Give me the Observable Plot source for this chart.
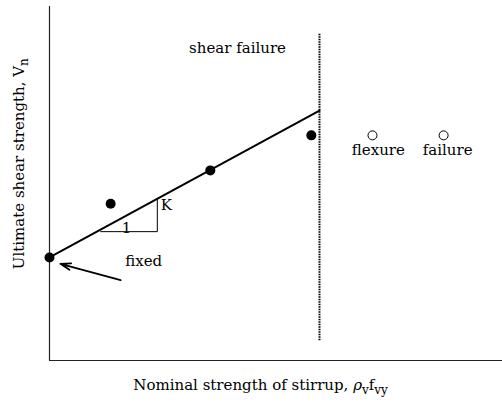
<!DOCTYPE html>
<html><head><meta charset="utf-8">
<script src="https://cdn.jsdelivr.net/npm/d3@7"></script>
<script src="https://cdn.jsdelivr.net/npm/@observablehq/plot@0.6"></script>
<style>body{margin:0;background:#fff}</style>
</head><body><div id="chart"></div>
<script>
// Test results (shear failure), arbitrary units
const testX = [0, 1.35, 3.55, 5.78];
const testY = [2.91, 4.43, 5.37, 6.36];
// Flexure failure markers
const flexX = [7.13, 8.70];
const flexY = [6.36, 6.36];
// Regression line (fixed intercept)
const fitX = [0, 5.96];
const fitY = [2.91, 7.06];
// Shear/flexure boundary
const boundX = 5.96;
const boundY = [0.56, 9.24];
// Slope triangle
const triX = [1.13, 2.38, 2.38];
const triY = [3.64, 3.64, 4.56];
// Annotations
const labels = ["shear failure", "flexure", "failure", "1", "K", "fixed"];
const labelX = [4.15, 7.26, 8.79, 1.70, 2.58, 2.08];
const labelY = [8.81, 5.93, 5.93, 3.74, 4.40, 2.80];
const arrowFrom = [1.57, 2.27];
const arrowTo = [0.24, 2.73];
const xTitle = "Nominal strength of stirrup, *ρ*_{v}f_{vy}";
const yTitle = "Ultimate shear strength, V_{n}";

const font = "DejaVu Serif";
const pts = testX.map((x, i) => ({x, y: testY[i]}));
const flex = flexX.map((x, i) => ({x, y: flexY[i]}));
const fit = fitX.map((x, i) => ({x, y: fitY[i]}));
const tri = triX.map((x, i) => ({x, y: triY[i]}));
const lab = labels.map((t, i) => ({t, x: labelX[i], y: labelY[i]}));

const svg = Plot.plot({
  width: 502, height: 407,
  marginLeft: 49, marginRight: 0, marginTop: 6, marginBottom: 47,
  x: {domain: [0, 10], axis: null},
  y: {domain: [0, 10], axis: null},
  style: {fontFamily: font, background: "#fff"},
  marks: [
    Plot.ruleX([0], {y1: 0, y2: 10, stroke: "#222", strokeWidth: 1.2}),
    Plot.ruleY([0], {x1: 0, x2: 10, stroke: "#222", strokeWidth: 1.2}),
    Plot.ruleX([boundX], {y1: boundY[0], y2: boundY[1], stroke: "#000", strokeWidth: 2, strokeDasharray: "1.5,1"}),
    Plot.line(fit, {x: "x", y: "y", stroke: "#000", strokeWidth: 2}),
    Plot.line(tri, {x: "x", y: "y", stroke: "#000", strokeWidth: 1}),
    Plot.dot(pts, {x: "x", y: "y", r: 5, fill: "#000"}),
    Plot.dot(flex, {x: "x", y: "y", r: 4.5, stroke: "#000", strokeWidth: 1, fill: "#fff"}),
    Plot.arrow([{}], {x1: arrowFrom[0], y1: arrowFrom[1], x2: arrowTo[0], y2: arrowTo[1], stroke: "#000", strokeWidth: 1.8, headLength: 9, headAngle: 35}),
    Plot.text(lab, {x: "x", y: "y", text: "t", fontSize: 15, fill: "#000"}),
    Plot.text([yTitle], {x: -0.68, y: 5.56, rotate: -90, fontSize: 15, fill: "#000", className: "rich"}),
    Plot.text([xTitle], {x: 4.66, y: -0.71, fontSize: 15, fill: "#000", className: "rich"})
  ]
});

// Rich text: _{...} subscript, *...* italic
d3.select(svg).selectAll(".rich text").each(function() {
  const el = d3.select(this);
  const s = el.text();
  el.text("");
  const re = /(_\{[^}]*\}|\*[^*]*\*)/g;
  let parts = s.split(re).filter(p => p !== "");
  let shifted = false;
  for (const p of parts) {
    if (p.startsWith("_{")) {
      el.append("tspan").attr("font-size", 12).attr("dy", shifted ? 0 : 4).text(p.slice(2, -1));
      shifted = true;
    } else {
      const t = el.append("tspan").attr("dy", shifted ? -4 : 0);
      shifted = false;
      if (p.startsWith("*")) t.attr("font-style", "italic").text(p.slice(1, -1));
      else t.text(p);
    }
  }
});
document.getElementById("chart").appendChild(svg);
</script>
</body></html>
